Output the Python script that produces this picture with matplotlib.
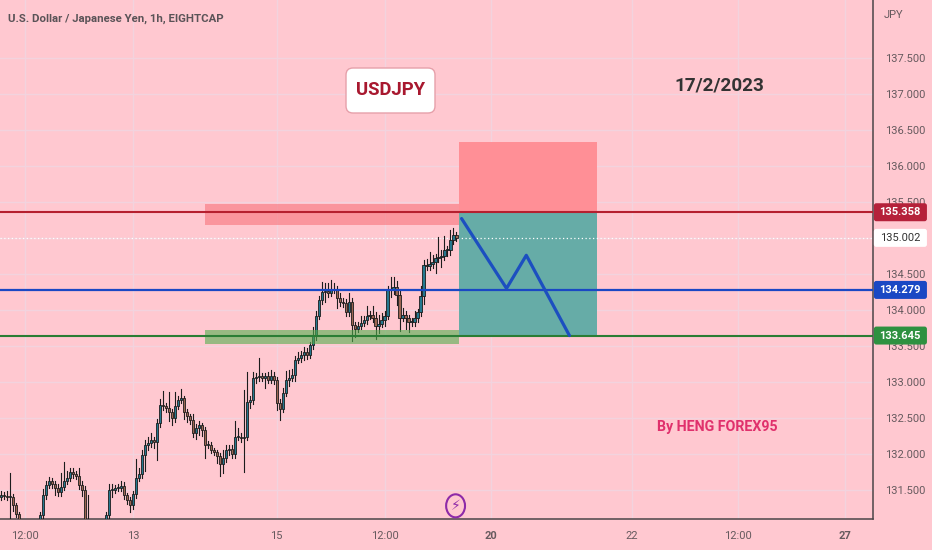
import matplotlib
matplotlib.use('Agg')
import matplotlib.pyplot as plt
from matplotlib.patches import Rectangle, Ellipse, FancyBboxPatch
from matplotlib.transforms import IdentityTransform

plt.rcParams['font.family'] = ['Roboto', 'DejaVu Sans']

closes = [131.43, 131.42, 131.40, 131.40, 131.29, 131.17, 131.06, 131.01, 130.94, 130.90,
          130.94, 130.97, 131.00, 131.15, 131.43, 131.57, 131.63, 131.58, 131.53, 131.47,
          131.54, 131.63, 131.67, 131.75, 131.72, 131.69, 131.57, 131.50, 131.01, 130.97,
          130.99, 130.94, 130.92, 130.94, 130.97, 131.15, 131.50, 131.50, 131.53, 131.53,
          131.56, 131.43, 131.36, 131.29, 131.44, 131.67, 131.72, 131.99, 132.13, 132.15,
          132.19, 132.17, 132.43, 132.68, 132.67, 132.64, 132.58, 132.50, 132.67, 132.75,
          132.78, 132.58, 132.53, 132.47, 132.29, 132.36, 132.40, 132.33, 132.13, 132.13,
          132.06, 132.03, 131.97, 131.86, 131.94, 132.06, 132.07, 132.00, 132.24, 132.24,
          132.22, 132.24, 132.72, 132.75, 133.06, 133.07, 133.08, 133.06, 133.08, 133.03,
          133.08, 133.03, 132.71, 132.63, 132.85, 133.03, 133.06, 133.10, 133.31, 133.33,
          133.38, 133.42, 133.38, 133.51, 133.65, 133.92, 134.14, 134.25, 134.26, 134.24,
          134.28, 134.28, 134.17, 134.11, 134.10, 133.97, 134.11, 133.79, 133.74, 133.78,
          133.82, 133.86, 133.92, 133.93, 133.89, 133.78, 133.81, 133.86, 133.92, 134.28,
          134.28, 134.32, 134.21, 133.89, 133.93, 133.89, 133.83, 133.83, 133.89, 133.97,
          134.19, 134.63, 134.61, 134.64, 134.67, 134.72, 134.74, 134.75, 134.83, 134.83,
          134.97, 135.04, 135.00]
first_open = 131.40

wick_up = [.05, .04, .06, .33, .05, .03, .03, .03, .03, .03,
           .03, .03, .03, .05, .08, .05, .05, .04, .04, .05,
           .20, .26, .10, .05, .06, .04, .12, .05, .06, .42,
           .05, .03, .03, .03, .03, .04, .08, .08, .04, .06,
           .07, .05, .03, .04, .04, .26, .08, .06, .06, .08,
           .10, .04, .05, .08, .20, .04, .22, .05, .19, .06,
           .12, .03, .04, .03, .08, .05, .06, .03, .04, .05,
           .04, .03, .03, .04, .12, .06, .05, .05, .22, .12,
           .05, .65, .42, .06, .08, .06, .25, .05, .05, .06,
           .08, .06, .04, .05, .06, .12, .10, .08, .05, .08,
           .05, .06, .05, .05, .12, .06, .05, .14, .12, .12,
           .14, .10, .05, .06, .05, .05, .12, .05, .05, .06,
           .10, .06, .14, .06, .12, .08, .12, .10, .06, .06,
           .18, .14, .08, .05, .10, .06, .04, .06, .10, .05,
           .14, .06, .08, .16, .10, .06, .28, .08, .20, .06,
           .14, .10, .04]

wick_down = [.04, .05, .04, .36, .08, .05, .03, .03, .03, .03,
             .03, .03, .03, .04, .04, .05, .04, .05, .10, .05,
             .06, .04, .04, .05, .05, .04, .06, .08, .03, .05,
             .03, .03, .03, .03, .03, .04, .05, .10, .04, .05,
             .05, .06, .06, .10, .05, .05, .05, .05, .22, .08,
             .05, .08, .25, .05, .06, .05, .12, .10, .05, .05,
             .04, .10, .08, .06, .05, .08, .10, .08, .18, .05,
             .05, .05, .10, .16, .12, .05, .08, .05, .05, .05,
             .05, .47, .05, .08, .05, .08, .05, .05, .14, .05,
             .05, .06, .10, .16, .05, .04, .08, .05, .08, .05,
             .05, .08, .06, .05, .05, .06, .05, .05, .14, .06,
             .05, .05, .14, .05, .06, .05, .05, .22, .12, .05,
             .05, .04, .06, .05, .05, .18, .10, .05, .08, .05,
             .10, .06, .14, .18, .04, .16, .14, .05, .05, .05,
             .05, .10, .06, .05, .05, .16, .05, .14, .05, .08,
             .06, .05, .04]

price_ticks = [131.5, 132.0, 132.5, 133.0, 133.5, 134.0, 134.5, 135.0, 135.5, 136.0, 136.5, 137.0, 137.5]
time_ticks = [8, 44, 92, 128, 163.5, 210.5, 246, 281.5]
time_labels = ['12:00', '13', '15', '12:00', '20', '22', '12:00', '27']
time_weights = ['normal', 'normal', 'normal', 'normal', 'bold', 'normal', 'normal', 'bold']

resistance = 135.358
middle = 134.279
support = 133.645
last_price = 135.002

# short trade drawn after the last candle: bar position, price
path_bars = [153.7, 168.7, 175.3, 189.7]
path_prices = [135.27, 134.30, 134.76, 133.645]

bg = '#ffc8d0'
up_col = '#24788f'
down_col = '#9c6552'

fig = plt.figure(figsize=(9.32, 5.5), dpi=100, facecolor=bg)
ax = fig.add_axes([0, 31 / 550, 873 / 932, 519 / 550], facecolor=bg)
ax.set_xlim(-1 / 3, 291)
ax.set_ylim(131.097, 138.306)

ax.set_xticks(time_ticks)
ax.set_xticklabels(time_labels)
for lab, w in zip(ax.get_xticklabels(), time_weights):
    lab.set_fontweight(w)
ax.set_yticks(price_ticks)
ax.set_yticklabels(['%.3f' % p for p in price_ticks])
ax.yaxis.tick_right()
ax.tick_params(axis='both', length=0, labelsize=8, labelcolor='#665a5e')
ax.tick_params(axis='y', pad=8.6)
ax.tick_params(axis='x', pad=8.6)
ax.grid(True, color='#f2d3de', lw=1)
ax.set_axisbelow(True)
for s in ['top', 'left']:
    ax.spines[s].set_visible(False)
for s in ['right', 'bottom']:
    ax.spines[s].set_color('#4a4548')
    ax.spines[s].set_linewidth(1.1)

# candles
opens = [first_open] + closes[:-1]
for i in range(len(closes)):
    o, c = opens[i], closes[i]
    top, bot = max(o, c), min(o, c)
    ax.plot([i, i], [bot - wick_down[i], top + wick_up[i]], color='#1c1c1c', lw=0.8, zorder=3)
    ax.add_patch(Rectangle((i - 0.36, bot), 0.72, max(top - bot, 0.012),
                           facecolor=up_col if c >= o else down_col,
                           edgecolor='#1c1c1c', lw=0.6, zorder=4))

# zones
ax.add_patch(Rectangle((153, resistance), 46, 0.975, facecolor='#ff8f96', edgecolor='none', zorder=2))
ax.add_patch(Rectangle((153, support), 46, resistance - support, facecolor='#66aca7', edgecolor='none', zorder=2))
ax.add_patch(Rectangle((68, 135.18), 85, 0.29, facecolor='#f8737b', alpha=0.6, edgecolor='none', zorder=5))
ax.add_patch(Rectangle((68, 133.53), 85, 0.19, facecolor='#52b04e', alpha=0.6, edgecolor='none', zorder=5))

# levels
ax.axhline(resistance, color='#b5202f', lw=1.5, zorder=6)
ax.axhline(middle, color='#1a48c4', lw=1.6, zorder=6)
ax.axhline(support, color='#2a7d34', lw=1.5, zorder=6)
ax.axhline(last_price, color='white', lw=0.9, ls=(0, (1, 2)), zorder=2.5)
ax.plot(path_bars, path_prices, color='#1c4fc0', lw=2.3, zorder=7, solid_capstyle='round')

# price tags on the scale
tags = [(resistance, '#b5213a', 'white'), (last_price, 'white', '#333333'),
        (middle, '#1a48c4', 'white'), (support, '#2e9140', 'white')]
for price, col, txt in tags:
    ax.add_patch(FancyBboxPatch((291.3, price - 0.125), 17.7, 0.25,
                                boxstyle='round,pad=0,rounding_size=0.8', mutation_aspect=0.0417,
                                fc=col, ec='none', clip_on=False, zorder=9))
    ax.text(300.1, price, '%.3f' % price, ha='center', va='center', fontsize=8,
            fontweight='bold' if txt == 'white' else 'normal', color=txt, clip_on=False, zorder=10)

# annotations
fig.text(8 / 932, 1 - 19 / 550, 'U.S. Dollar / Japanese Yen, 1h, EIGHTCAP', fontsize=8.2,
         fontweight='bold', color='#5a5357', va='center', ha='left')
fig.text(884 / 932, 1 - 15 / 550, 'JPY', fontsize=8, color='#665a5e', va='center', ha='left')
fig.add_artist(FancyBboxPatch((346, 550 - 113), 89, 45, boxstyle='round,pad=0,rounding_size=7',
                              fc='white', ec='#e6a0aa', lw=1, transform=IdentityTransform()))
fig.text(390.5 / 932, 1 - 90 / 550, 'USDJPY', fontsize=13.3, color='#a8182f',
         fontweight='bold', va='center', ha='center')
fig.text(719 / 932, 1 - 86 / 550, '17/2/2023', fontsize=13.6, fontweight='bold', color='#333333',
         va='center', ha='center')
fig.text(717 / 932, 1 - 427 / 550, 'By HENG FOREX95', fontsize=10.2, fontweight='bold', color='#e0306c',
         va='center', ha='center')

# lightning marker
ax.add_patch(Ellipse((151.7, 131.28), 6.3, 0.32, facecolor=bg, edgecolor='#8e2aa8', lw=1.5, zorder=8))
ax.text(151.7, 131.28, '\u26a1', family='DejaVu Sans', fontsize=10, color='#8e2aa8', ha='center',
        va='center', zorder=9)

plt.savefig('out.png', dpi=100, facecolor=bg)
